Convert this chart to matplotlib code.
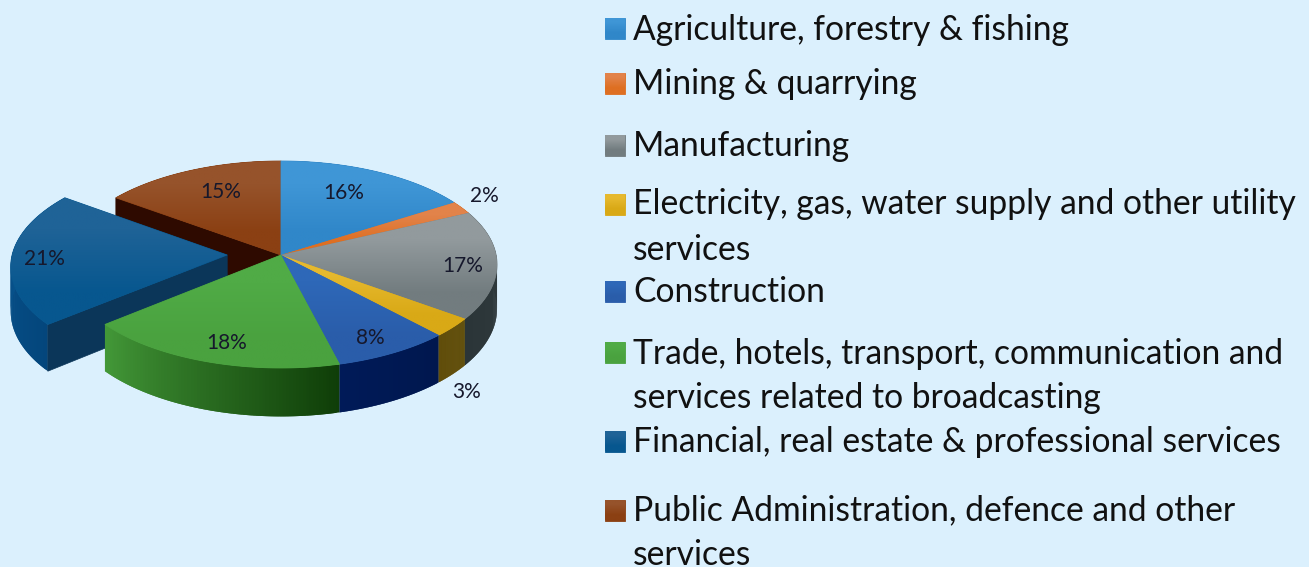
import matplotlib
matplotlib.use('Agg')
import matplotlib.pyplot as plt
import numpy as np
from matplotlib.colors import to_rgb
from matplotlib.patches import Polygon

plt.rcParams['font.family'] = ['Lato', 'DejaVu Sans']

# data
categories = ['Agriculture, forestry & fishing', 'Mining & quarrying', 'Manufacturing',
              'Electricity, gas, water supply and other utility\nservices', 'Construction',
              'Trade, hotels, transport, communication and\nservices related to broadcasting',
              'Financial, real estate & professional services',
              'Public Administration, defence and other\nservices']
shares = [16, 2, 17, 3, 8, 18, 21, 15]

# styles: top light, top dark, wall start, wall end
top_light = ['#3F96D6', '#E2834A', '#929A9D', '#E6B92E', '#2E68B8', '#50AB46', '#1F6397', '#96532B']
top_dark = ['#3087C9', '#DE6F22', '#727C7F', '#D9A916', '#2A5DAA', '#4AA23F', '#07578F', '#8B4013']
wall_a = ['#1F5F94', '#A8561A', '#2B3538', '#5C4700', '#001A58', '#439838', '#0A5A96', '#5A2508']
wall_b = ['#1F5F94', '#A8561A', '#333D40', '#5C4700', '#00174E', '#0F3E08', '#04467C', '#5A2508']
label_pos = [(344, 193), (484, 196), (463, 266), (467, 392), (370, 338), (227, 343), (44, 259), (221, 192)]
legend_box_y = [28, 83, 145, 204, 291, 352, 441, 510]
legend_base_y = [[39.5], [94.5], [156.5], [214.5, 259.5], [302.5], [363.5, 408.5], [452.5], [520.5, 565]]

# geometry of the tilted pie, in pixels
cx, cy = 281, 255
a, b, k = 102.6, 215.1, 0.0918
depth = 44
explode = {6: 0.25}


def project(x, y, drop=0.0):
    w = 1 + k * y
    return cx + b * x / w, cy - a * y / w + depth * drop / w


def rim(t0, t1, off):
    t = np.radians(np.linspace(t0, t1, 80))
    return np.sin(t) + off, np.cos(t)


def gradient_poly(ax, pts, c0, c1, z):
    pts = np.array(pts)
    poly = Polygon(pts, closed=True, facecolor=c1, edgecolor=c1, lw=0.6, zorder=z)
    ax.add_patch(poly)
    grad = np.array([[to_rgb(c0)], [to_rgb(c1)]])
    im = ax.imshow(grad, extent=(pts[:, 0].min(), pts[:, 0].max(), pts[:, 1].max(), pts[:, 1].min()),
                   aspect='auto', interpolation='bilinear', zorder=z + 0.01)
    im.set_clip_path(poly)


fig = plt.figure(figsize=(13.09, 5.67), dpi=100, facecolor='#DBF0FD')
ax = fig.add_axes([0, 0, 1, 1])
ax.set_facecolor('#DBF0FD')

edges = np.cumsum([0] + shares) * 3.6
# draw order: back slice, pulled out slice, then the rest of the pie
order = [7, 6, 0, 1, 2, 3, 4, 5]
for n, i in enumerate(order):
    z = 10 + n * 3 if i in (6, 7) else 20
    t0, t1 = edges[i], edges[i + 1]
    off = -explode.get(i, 0)
    xs, ys = rim(t0, t1, off)

    # outer wall, each piece overlaps the next so no seams show
    for j in range(len(xs) - 1):
        e = min(j + 2, len(xs) - 1)
        p = [project(xs[j], ys[j]), project(xs[e], ys[e]),
             project(xs[e], ys[e], 1), project(xs[j], ys[j], 1)]
        f = j / (len(xs) - 2)
        col = (1 - f) * np.array(to_rgb(wall_b[i])) + f * np.array(to_rgb(wall_a[i]))
        ax.add_patch(Polygon(p, closed=True, facecolor=col, edgecolor='none', zorder=z + j * 0.001))

    # cut faces that can be seen from the front
    if i == 7:
        sx, sy = xs[0], ys[0]
        p = [project(0, 0), project(sx, sy), project(sx, sy, 1), project(0, 0, 1)]
        ax.add_patch(Polygon(p, closed=True, facecolor='#2E0A00', edgecolor='#2E0A00', lw=0.5, zorder=z + 0.5))
    if i == 6:
        sx, sy = xs[0], ys[0]
        p = [project(off, 0), project(sx, sy), project(sx, sy, 1), project(off, 0, 1)]
        ax.add_patch(Polygon(p, closed=True, facecolor='#0B3659', edgecolor='#0B3659', lw=0.5, zorder=z + 0.5))

    tz = z + 1 if i in (6, 7) else 30
    top = [project(off, 0)] + [project(u, v) for u, v in zip(xs, ys)]
    gradient_poly(ax, top, top_light[i], top_dark[i], tz)

# value labels
for s, (lx, ly) in zip(shares, label_pos):
    ax.text(lx, ly, f'{s}%', ha='center', va='center', fontsize=15, color='#16182C', zorder=50)

# legend
for i, name in enumerate(categories):
    by = legend_box_y[i]
    box = [(605, by - 10), (625, by - 10), (625, by + 10.5), (605, by + 10.5)]
    gradient_poly(ax, box, top_light[i], top_dark[i], 40)
    for line, base in zip(name.split('\n'), legend_base_y[i]):
        ax.text(633, base, line, ha='left', va='baseline', fontsize=24.2, color='#111111', zorder=50)

ax.set_xlim(0, 1309)
ax.set_ylim(567, 0)
ax.axis('off')

fig.savefig('out.png', dpi=100, facecolor=fig.get_facecolor())
